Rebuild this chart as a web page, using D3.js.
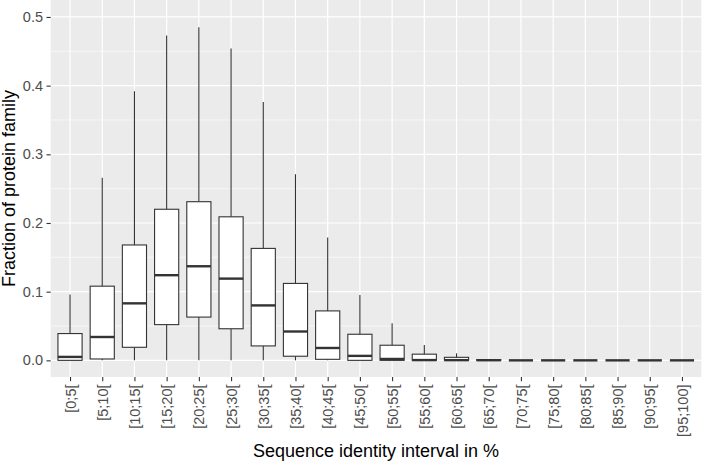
<!DOCTYPE html>
<html>
<head>
<meta charset="utf-8">
<script src="https://cdn.jsdelivr.net/npm/d3@7"></script>
<style>
  html, body { margin: 0; padding: 0; background: #fff; }
  svg { display: block; }
  text { font-family: "Liberation Sans", Arial, Helvetica, sans-serif; }
</style>
</head>
<body>
<svg id="chart" width="702" height="462"></svg>
<script>
// ---- data ----
const categories = ["[0;5[", "[5;10[", "[10;15[", "[15;20[", "[20;25[", "[25;30[", "[30;35[",
  "[35;40[", "[40;45[", "[45;50[", "[50;55[", "[55;60[", "[60;65[", "[65;70[", "[70;75[",
  "[75;80[", "[80;85[", "[85;90[", "[90;95[", "[95;100]"];
const whiskerLow = [0, 0, 0, 0, 0, 0, 0, 0, 0, 0, 0, 0, 0, 0, 0, 0, 0, 0, 0, 0];
const q1Values = [0.000, 0.002, 0.019, 0.052, 0.063, 0.046, 0.021, 0.006, 0.0015, 0.000,
  0.000, 0.000, 0.000, 0, 0, 0, 0, 0, 0, 0];
const medianValues = [0.005, 0.034, 0.083, 0.124, 0.137, 0.119, 0.080, 0.042, 0.018, 0.0065,
  0.002, 0.0004, 0.0003, 0.0002, 0, 0, 0, 0, 0, 0];
const q3Values = [0.039, 0.108, 0.168, 0.220, 0.231, 0.209, 0.163, 0.112, 0.072, 0.038,
  0.022, 0.009, 0.0044, 0.001, 0, 0, 0, 0, 0, 0];
const whiskerHigh = [0.096, 0.266, 0.392, 0.473, 0.485, 0.454, 0.376, 0.271, 0.179, 0.095,
  0.054, 0.0225, 0.0102, 0.002, 0, 0, 0, 0, 0, 0];
const yTicks = [0.0, 0.1, 0.2, 0.3, 0.4, 0.5];
const yMinorTicks = [0.05, 0.15, 0.25, 0.35, 0.45];
const xTitle = "Sequence identity interval in %";
const yTitle = "Fraction of protein family";

// ---- layout ----
const panel = { left: 50.7, right: 701.3, top: 0, bottom: 377 };
const svg = d3.select("#chart");

const x = d3.scalePoint().domain(categories).range([panel.left, panel.right]).padding(0.6);
const y = d3.scaleLinear().domain([-0.02425, 0.5247]).range([panel.bottom, panel.top]);
const boxW = x.step() * 0.75;

// panel background
svg.append("rect")
  .attr("x", panel.left).attr("y", panel.top)
  .attr("width", panel.right - panel.left).attr("height", panel.bottom - panel.top)
  .attr("fill", "#EBEBEB");

const grid = svg.append("g");
grid.selectAll("line.minor").data(yMinorTicks).enter().append("line")
  .attr("x1", panel.left).attr("x2", panel.right)
  .attr("y1", d => y(d)).attr("y2", d => y(d))
  .attr("stroke", "#fff").attr("stroke-width", 0.6);
grid.selectAll("line.majorY").data(yTicks).enter().append("line")
  .attr("x1", panel.left).attr("x2", panel.right)
  .attr("y1", d => y(d)).attr("y2", d => y(d))
  .attr("stroke", "#fff").attr("stroke-width", 1.2);
grid.selectAll("line.majorX").data(categories).enter().append("line")
  .attr("x1", d => x(d)).attr("x2", d => x(d))
  .attr("y1", panel.top).attr("y2", panel.bottom)
  .attr("stroke", "#fff").attr("stroke-width", 1.2);

// boxes
const rows = categories.map((c, i) => ({
  c, lo: whiskerLow[i], q1: q1Values[i], med: medianValues[i], q3: q3Values[i], hi: whiskerHigh[i]
}));
const boxes = svg.append("g").selectAll("g").data(rows).enter().append("g");
boxes.append("line")
  .attr("x1", d => x(d.c)).attr("x2", d => x(d.c))
  .attr("y1", d => y(d.q3)).attr("y2", d => y(d.hi))
  .attr("stroke", "#333").attr("stroke-width", 1.1);
boxes.append("line")
  .attr("x1", d => x(d.c)).attr("x2", d => x(d.c))
  .attr("y1", d => y(d.q1)).attr("y2", d => y(d.lo))
  .attr("stroke", "#333").attr("stroke-width", 1.1);
boxes.append("rect")
  .attr("x", d => x(d.c) - boxW / 2).attr("width", boxW)
  .attr("y", d => y(d.q3)).attr("height", d => y(d.q1) - y(d.q3))
  .attr("fill", "#fff").attr("stroke", "#333").attr("stroke-width", 1.1);
boxes.append("line")
  .attr("x1", d => x(d.c) - boxW / 2).attr("x2", d => x(d.c) + boxW / 2)
  .attr("y1", d => y(d.med)).attr("y2", d => y(d.med))
  .attr("stroke", "#333").attr("stroke-width", 2.4);

// y axis
const yAxis = d3.axisLeft(y).tickValues(yTicks).tickFormat(d3.format(".1f")).tickSize(4.2).tickPadding(3.5);
const gy = svg.append("g").attr("transform", `translate(${panel.left},0)`).call(yAxis);
gy.select(".domain").remove();
gy.selectAll(".tick line").attr("stroke", "#333").attr("stroke-width", 1.1);
gy.selectAll(".tick text").attr("fill", "#4D4D4D").style("font-size", "14.5px")
  .style("font-family", "'Liberation Sans', Arial, Helvetica, sans-serif");

// x axis
const xAxis = d3.axisBottom(x).tickSize(4.2).tickPadding(3);
const gx = svg.append("g").attr("transform", `translate(0,${panel.bottom})`).call(xAxis);
gx.select(".domain").remove();
gx.selectAll(".tick line").attr("stroke", "#333").attr("stroke-width", 1.1);
gx.selectAll(".tick text")
  .attr("fill", "#4D4D4D").style("font-size", "14.5px")
  .style("font-family", "'Liberation Sans', Arial, Helvetica, sans-serif")
  .attr("transform", "rotate(-90)")
  .attr("text-anchor", "end")
  .attr("x", -7.5).attr("y", 0).attr("dy", "0.35em");

// titles
svg.append("text")
  .attr("x", (panel.left + panel.right) / 2).attr("y", 457)
  .attr("text-anchor", "middle").attr("fill", "#000")
  .style("font-size", "18px").text(xTitle);
svg.append("text")
  .attr("transform", `translate(15,${(panel.top + panel.bottom) / 2}) rotate(-90)`)
  .attr("text-anchor", "middle").attr("fill", "#000")
  .style("font-size", "18px").text(yTitle);
</script>
</body>
</html>
